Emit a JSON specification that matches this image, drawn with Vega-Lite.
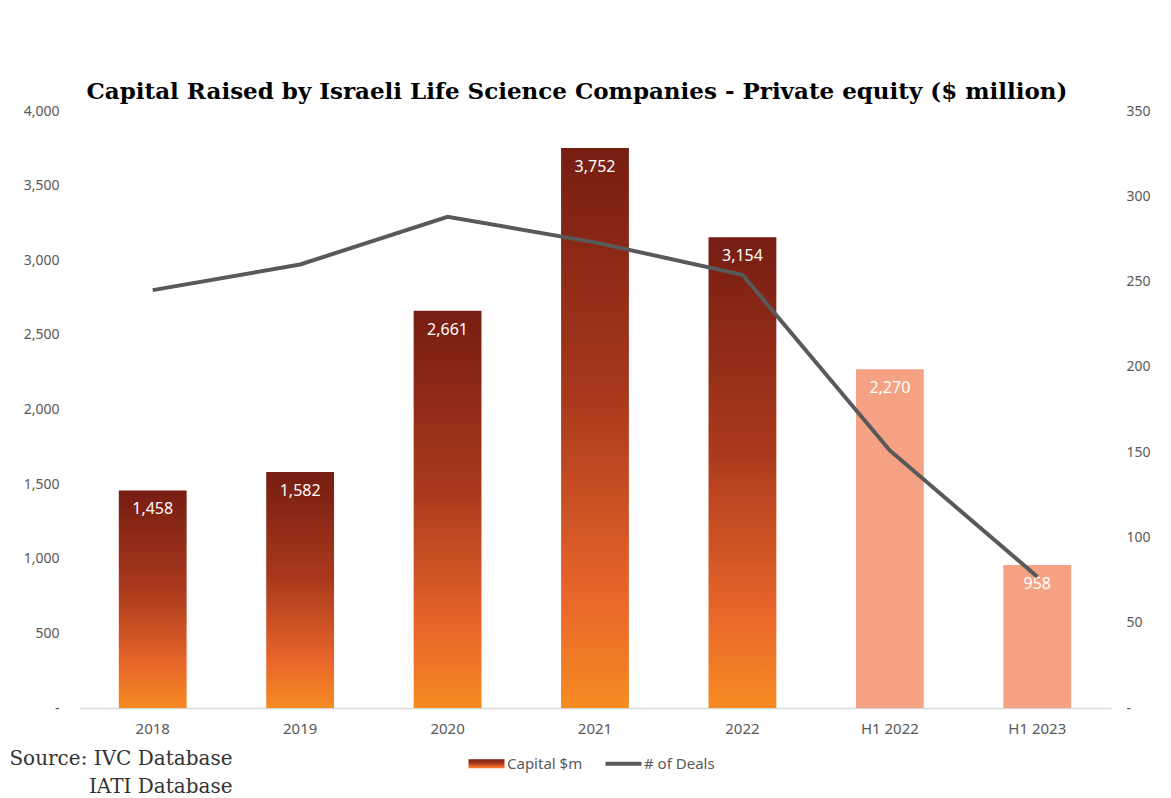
{
  "$schema": "https://vega.github.io/schema/vega-lite/v6.json",
  "width": 1032,
  "height": 597,
  "padding": {"left": 8, "top": 81, "right": 5, "bottom": 5},
  "background": "white",
  "title": {
    "text": "Capital Raised by Israeli Life Science Companies - Private equity ($ million)",
    "font": "DejaVu Serif",
    "fontSize": 23,
    "fontWeight": "bold",
    "color": "#000000",
    "anchor": "middle",
    "dx": -18,
    "offset": 0
  },
  "config": {
    "view": {"stroke": null},
    "axis": {"labelFont": "Noto Sans", "labelColor": "#595959", "grid": false, "ticks": false}
  },
  "data": {
    "values": [
      {"period": "2018", "capital": 1458, "deals": 245, "half": false},
      {"period": "2019", "capital": 1582, "deals": 260, "half": false},
      {"period": "2020", "capital": 2661, "deals": 288, "half": false},
      {"period": "2021", "capital": 3752, "deals": 273, "half": false},
      {"period": "2022", "capital": 3154, "deals": 254, "half": false},
      {"period": "H1 2022", "capital": 2270, "deals": 151, "half": true},
      {"period": "H1 2023", "capital": 958, "deals": 77, "half": true}
    ]
  },
  "encoding": {
    "x": {
      "field": "period",
      "type": "ordinal",
      "sort": null,
      "scale": {"paddingInner": 0.54, "paddingOuter": 0.27},
      "axis": {
        "labelAngle": 0,
        "labelFontSize": 15,
        "labelPadding": 13,
        "domainColor": "#d9d9d9",
        "domainWidth": 1.5,
        "title": ["Source: IVC Database", "IATI Database"],
        "titleFont": "DejaVu Serif",
        "titleFontSize": 20,
        "titleFontWeight": "normal",
        "titleColor": "#333333",
        "titleAlign": "right",
        "titleAnchor": "start",
        "titleBaseline": "top",
        "titleX": 153,
        "titleY": 40,
        "titleLineHeight": 28
      }
    }
  },
  "layer": [
    {
      "transform": [{"filter": "!datum.half"}],
      "mark": {
        "type": "bar",
        "fill": {
          "gradient": "linear",
          "x1": 0, "y1": 0, "x2": 0, "y2": 1,
          "stops": [
            {"offset": 0, "color": "#761d12"},
            {"offset": 0.45, "color": "#a9391d"},
            {"offset": 0.8, "color": "#e8662a"},
            {"offset": 1, "color": "#f68b22"}
          ]
        }
      },
      "encoding": {
        "y": {
          "field": "capital",
          "type": "quantitative",
          "scale": {"domain": [0, 4000]},
          "axis": {
            "values": [0, 500, 1000, 1500, 2000, 2500, 3000, 3500, 4000],
            "labelExpr": "datum.value == 0 ? '-' : datum.label",
            "labelFontSize": 14,
            "labelPadding": 20,
            "domain": false,
            "title": null
          }
        }
      }
    },
    {
      "transform": [{"filter": "datum.half"}],
      "mark": {"type": "bar", "fill": "#f4a283"},
      "encoding": {
        "y": {"field": "capital", "type": "quantitative", "scale": {"domain": [0, 4000]}, "axis": null}
      }
    },
    {
      "mark": {"type": "text", "color": "white", "font": "Noto Sans", "fontSize": 16, "baseline": "middle", "dy": 19},
      "encoding": {
        "y": {"field": "capital", "type": "quantitative", "scale": {"domain": [0, 4000]}, "axis": null},
        "text": {"field": "capital", "type": "quantitative", "format": ","}
      }
    },
    {
      "mark": {"type": "line", "strokeWidth": 4},
      "encoding": {
        "y": {
          "field": "deals",
          "type": "quantitative",
          "scale": {"domain": [0, 350]},
          "axis": {
            "orient": "right",
            "values": [0, 50, 100, 150, 200, 250, 300, 350],
            "labelExpr": "datum.value == 0 ? '-' : datum.label",
            "labelFontSize": 14,
            "labelPadding": 15,
            "domain": false,
            "title": null
          }
        },
        "stroke": {
          "datum": "# of Deals",
          "scale": {"domain": ["Capital $m", "# of Deals"], "range": ["#e0602a", "#595959"]},
          "legend": {
            "title": null,
            "orient": "none",
            "direction": "horizontal",
            "legendX": 400,
            "legendY": 645,
            "symbolSize": 1296,
            "labelFont": "Noto Sans",
            "labelFontSize": 15,
            "labelColor": "#595959",
            "labelOffset": 13,
            "columnPadding": 14,
            "encode": {
              "symbols": {
                "update": {
                  "shape": {"signal": "datum.label === 'Capital $m' ? 'M-1,-0.25H1V0.25H-1Z' : 'stroke'"},
                  "fill": {"signal": "datum.label === 'Capital $m' ? {gradient: 'linear', x1: 0, y1: 0, x2: 0, y2: 1, stops: [{offset: 0, color: '#761d12'}, {offset: 0.45, color: '#a9391d'}, {offset: 0.8, color: '#e8662a'}, {offset: 1, color: '#f68b22'}]} : 'transparent'"},
                  "strokeWidth": {"signal": "datum.label === 'Capital $m' ? 0 : 4"}
                }
              }
            }
          }
        }
      }
    }
  ],
  "resolve": {"scale": {"y": "independent"}}
}
